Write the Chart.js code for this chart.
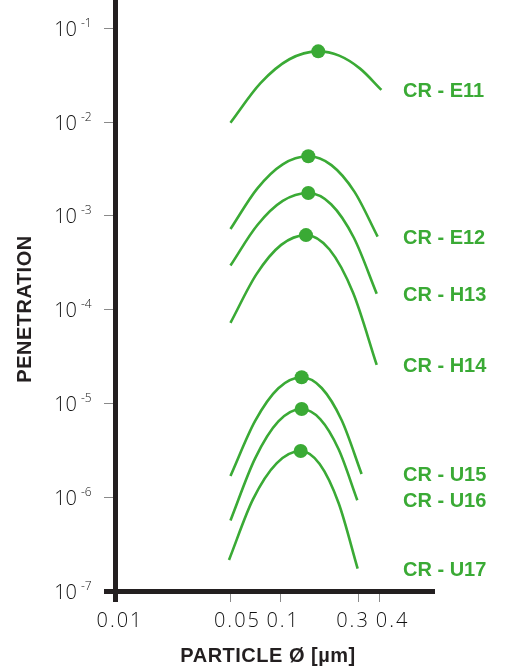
<!DOCTYPE html>
<html>
<head>
<meta charset="utf-8">
<script src="https://cdn.jsdelivr.net/npm/chart.js@4.4.1/dist/chart.umd.min.js"></script>
<style>
html, body { margin: 0; padding: 0; background: #fff; }
#wrap { width: 507px; height: 666px; }
</style>
</head>
<body>
<div id="wrap"><canvas id="penChart"></canvas></div>
<script>
// filter classes, top to bottom
const seriesNames = ['CR - E11', 'CR - E12', 'CR - H13', 'CR - H14', 'CR - U15', 'CR - U16', 'CR - U17'];

// particle size (µm) and penetration
const e11X = [0.05, 0.076, 0.1137, 0.170, 0.2276, 0.3046, 0.41];
const e11Y = [0.00984, 0.0260, 0.0467, 0.0567, 0.0510, 0.0371, 0.0220];
const e12X = [0.05, 0.0726, 0.1036, 0.148, 0.2042, 0.2819, 0.389];
const e12Y = [7.22e-4, 1.95e-3, 3.54e-3, 4.31e-3, 3.47e-3, 1.80e-3, 6.0e-4];
const h13X = [0.05, 0.0726, 0.1036, 0.148, 0.2033, 0.2793, 0.384];
const h13Y = [2.95e-4, 7.93e-4, 1.44e-3, 1.75e-3, 1.33e-3, 5.84e-4, 1.48e-4];
const h14X = [0.05, 0.0719, 0.1014, 0.1433, 0.199, 0.2763, 0.384];
const h14Y = [7.22e-5, 2.39e-4, 4.9e-4, 6.23e-4, 4.37e-4, 1.51e-4, 2.57e-5];
const u15X = [0.05, 0.0704, 0.0975, 0.1349, 0.1783, 0.2357, 0.311];
const u15Y = [1.68e-6, 6.46e-6, 1.45e-5, 1.90e-5, 1.46e-5, 6.61e-6, 1.77e-6];
const u16X = [0.05, 0.0704, 0.0975, 0.1349, 0.1747, 0.2262, 0.293];
const u16Y = [5.65e-7, 2.58e-6, 6.43e-6, 8.72e-6, 6.80e-6, 3.22e-6, 9.29e-7];
const u17X = [0.049, 0.0684, 0.0954, 0.1331, 0.1734, 0.226, 0.2944];
const u17Y = [2.14e-7, 9.47e-7, 2.31e-6, 3.11e-6, 2.26e-6, 8.61e-7, 1.73e-7];

const xTicks = [0.01, 0.05, 0.1, 0.3, 0.4];
const yTicks = [1e-7, 1e-6, 1e-5, 1e-4, 1e-3, 1e-2, 1e-1];

const allX = [e11X, e12X, h13X, h14X, u15X, u16X, u17X];
const allY = [e11Y, e12Y, h13Y, h14Y, u15Y, u16Y, u17Y];

const green = '#3aaa35';
const ink = '#231f20';
const xLabelShift = [5, 7, 3, -6, 13];

const datasets = seriesNames.map((name, i) => {
    const ys = allY[i];
    const peak = ys.indexOf(Math.max(...ys));
    return {
        label: name,
        data: allX[i].map((x, j) => ({ x: x, y: ys[j] })),
        borderColor: green,
        backgroundColor: green,
        borderWidth: 2.6,
        fill: false,
        cubicInterpolationMode: 'monotone',
        pointRadius: ctx => ctx.dataIndex === peak ? 7 : 0,
        pointBackgroundColor: green,
        pointBorderWidth: 0
    };
});

const textPlugin = {
    id: 'texts',
    afterDraw(chart) {
        const { ctx, chartArea, scales } = chart;
        const x = scales.x, y = scales.y;
        ctx.save();

        // y tick labels as 10 with raised exponent
        ctx.fillStyle = '#111';
        yTicks.forEach(v => {
            const py = y.getPixelForValue(v);
            ctx.font = '300 20px "Open Sans"';
            ctx.textAlign = 'right';
            ctx.textBaseline = 'alphabetic';
            ctx.fillText('10', chartArea.left - 38, py + 7.5);
            ctx.font = '300 12px "Open Sans"';
            ctx.textAlign = 'left';
            ctx.fillText(String(Math.round(Math.log10(v))), chartArea.left - 34, py - 1.5);
        });

        // x tick labels
        ctx.font = '300 20px "Open Sans"';
        ctx.textAlign = 'center';
        ctx.letterSpacing = '2px';
        xTicks.forEach((v, i) => {
            ctx.fillText(String(v), x.getPixelForValue(v) + xLabelShift[i], chartArea.bottom + 36);
        });
        ctx.letterSpacing = '0px';

        // axis titles
        ctx.fillStyle = ink;
        ctx.font = 'bold 20px "Liberation Sans"';
        ctx.letterSpacing = '0.5px';
        ctx.fillText('PARTICLE Ø [µm]', 268, chartArea.bottom + 71);
        ctx.save();
        ctx.translate(31, 309);
        ctx.rotate(-Math.PI / 2);
        ctx.fillText('PENETRATION', 0, 0);
        ctx.restore();
        ctx.letterSpacing = '0px';

        // series names at the end of each curve
        ctx.fillStyle = green;
        ctx.textAlign = 'left';
        seriesNames.forEach((name, i) => {
            const ys = allY[i];
            const py = y.getPixelForValue(ys[ys.length - 1]);
            ctx.fillText(name, chartArea.right - 29, py + 7);
        });
        ctx.restore();
    }
};

new Chart(document.getElementById('penChart'), {
    type: 'line',
    data: { datasets: datasets },
    options: {
        responsive: true,
        maintainAspectRatio: false,
        animation: false,
        devicePixelRatio: 1,
        layout: { padding: { left: 0, right: 75, top: 0, bottom: 0 } },
        plugins: { legend: { display: false }, tooltip: { enabled: false } },
        scales: {
            x: {
                type: 'logarithmic',
                min: 0.01,
                max: 0.83,
                afterBuildTicks: s => { s.ticks = xTicks.map(v => ({ value: v })); },
                afterFit: s => { s.height = 75; },
                ticks: { display: false },
                grid: {
                    drawOnChartArea: false,
                    tickLength: 11,
                    color: c => c.index === 0 ? ink : '#8a8a8a',
                    lineWidth: c => c.index === 0 ? 5 : 1
                },
                border: { color: ink, width: 5 }
            },
            y: {
                type: 'logarithmic',
                min: 1e-7,
                max: 0.2,
                afterBuildTicks: s => { s.ticks = yTicks.map(v => ({ value: v })); },
                afterFit: s => { s.width = 115; },
                ticks: { display: false },
                grid: {
                    drawOnChartArea: false,
                    tickLength: 11,
                    color: c => c.index === 0 ? ink : '#8a8a8a',
                    lineWidth: c => c.index === 0 ? 5 : 1
                },
                border: { color: ink, width: 5 }
            }
        }
    },
    plugins: [textPlugin]
});
</script>
</body>
</html>
